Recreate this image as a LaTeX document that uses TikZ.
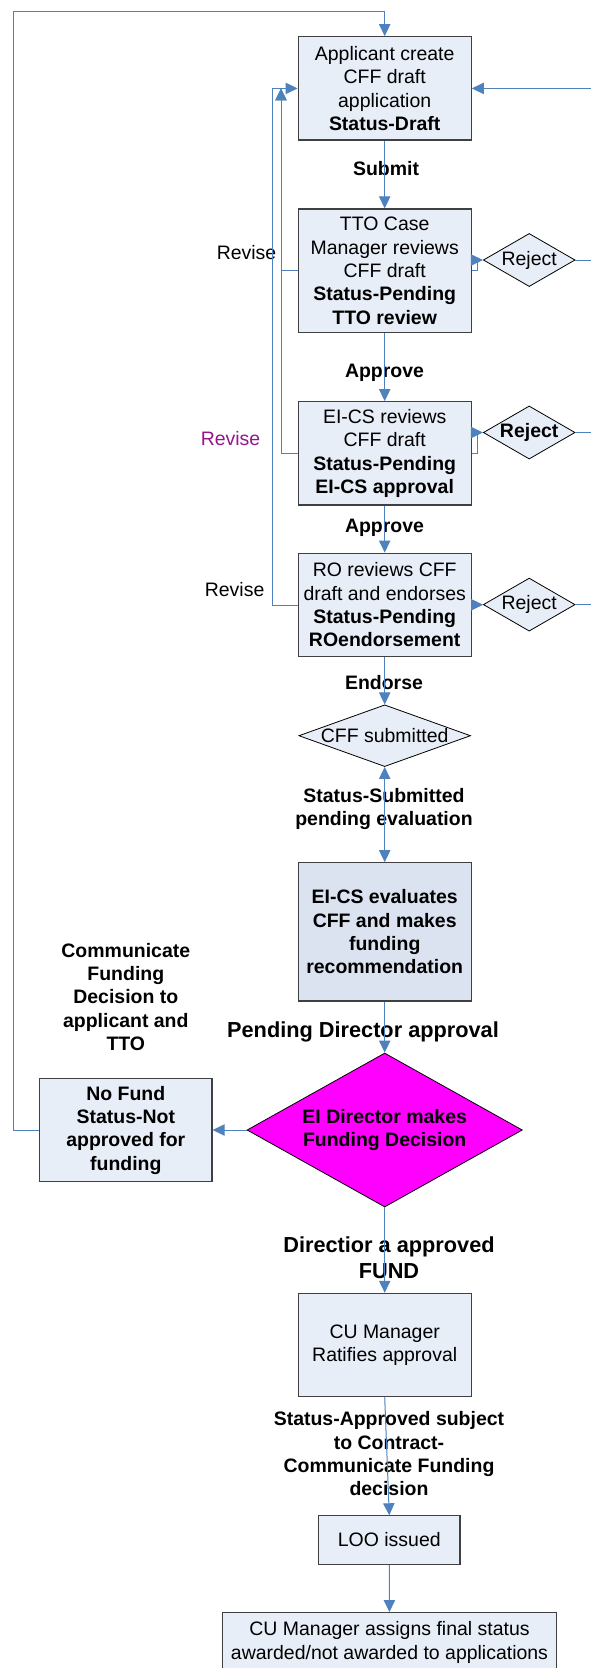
\documentclass[tikz,border=0pt]{standalone}
\usepackage{fontspec}
\setmainfont{Liberation Sans}
\usetikzlibrary{shapes.geometric,arrows.meta}
\definecolor{boxFill}{RGB}{232,238,247}
\definecolor{evalFill}{RGB}{219,227,241}
\definecolor{linkBlue}{RGB}{79,129,189}
\definecolor{edgeGray}{RGB}{64,64,64}
\definecolor{reviseMag}{RGB}{150,20,140}
\definecolor{dirMag}{RGB}{255,0,255}
\newcommand{\flowNrm}{\fontsize{14.6pt}{17.5pt}\selectfont}
\newcommand{\flowBig}{\fontsize{16.3pt}{19.3pt}\selectfont}
\begin{document}
\begin{tikzpicture}[x=0.75pt,y=-0.75pt,
    flowBox/.style={rectangle,draw=edgeGray,line width=0.9pt,fill=boxFill,align=center,inner sep=0pt,font=\flowNrm,minimum width=129.75pt},
    flowDia/.style={diamond,draw=black,line width=0.6pt,fill=boxFill,align=center,inner sep=0pt,font=\flowNrm},
    flowLbl/.style={align=center,font=\flowNrm\bfseries},
    flowArr/.style={->,>={Triangle[length=9pt,width=8.5pt]},draw=linkBlue,line width=0.75pt},
    flowLine/.style={draw=linkBlue,line width=0.75pt},
]
\useasboundingbox (0,0) rectangle (591,1668);
% main column
\node[flowBox,minimum height=77.5pt] (draft) at (384.7,88.4) {Applicant create\\CFF draft\\application\\\textbf{Status-Draft}};
\node[flowBox,minimum height=92.6pt] (tto) at (384.7,270.7) {TTO Case\\Manager reviews\\CFF draft\\\textbf{Status-Pending}\\\textbf{TTO review}};
\node[flowBox,minimum height=77.5pt] (eics) at (384.7,453.4) {EI-CS reviews\\CFF draft\\\textbf{Status-Pending}\\\textbf{EI-CS approval}};
\node[flowBox,minimum height=77.8pt] (ro) at (384.7,605) {RO reviews CFF\\draft and endorses\\\textbf{Status-Pending}\\\textbf{ROendorsement}};
\node[flowDia,aspect=2.78,minimum width=128.8pt,minimum height=46.3pt] (subm) at (384.7,735.7) {CFF submitted};
\node[flowBox,fill=evalFill,font=\flowNrm\bfseries,minimum height=103.7pt] (eval) at (384.7,931.9) {EI-CS evaluates\\CFF and makes\\funding\\recommendation};
\node[flowDia,fill=dirMag,aspect=1.79,minimum width=206.5pt,minimum height=115.5pt,font=\flowNrm\bfseries] (decide) at (384.7,1130) {EI Director makes\\Funding Decision};
\node[flowBox,font=\flowNrm\bfseries,minimum width=129.3pt,minimum height=77.8pt] (nofund) at (125.8,1130) {No Fund\\Status-Not\\approved for\\funding};
\node[flowBox,minimum height=77.5pt] (ratify) at (384.7,1345) {CU Manager\\Ratifies approval};
\node[flowBox,minimum width=106.1pt,minimum height=36.2pt] (loo) at (389.3,1540) {LOO issued};
\node[flowBox,minimum width=250.8pt,minimum height=44.5pt] (final) at (389.5,1642.3) {CU Manager assigns final status\\awarded/not awarded to applications};
% reject diamonds
\node[flowDia,aspect=1.73,minimum width=68.8pt,minimum height=39.8pt] (rej1) at (529.2,260) {Reject};
\node[flowDia,aspect=1.73,minimum width=68.8pt,minimum height=39.8pt,font=\flowNrm\bfseries] (rej2) at (529.2,432.5) {Reject};
\node[flowDia,aspect=1.73,minimum width=68.8pt,minimum height=39.8pt] (rej3) at (529.2,604.6) {Reject};
% labels
\node[flowLbl] (lSubmit) at (386,169) {Submit};
\node[flowLbl] (lApprove) at (384.5,372.7) {Approve};
\node[flowLbl] (lApproveB) at (384.5,528.3) {Approve};
\node[flowLbl] (lEndorse) at (384,683) {Endorse};
\node[flowLbl] (lSubmitted) at (384,808.8) {Status-Submitted\\pending evaluation};
\node[flowLbl,font=\flowBig\bfseries] (lPending) at (363,1031.7) {Pending Director approval};
\node[flowLbl] (lComm) at (125.8,996.7) {Communicate\\Funding\\Decision to\\applicant and\\TTO};
\node[flowLbl,font=\flowBig\bfseries] (lFund) at (389,1258) {Directior a approved\\FUND};
\node[flowLbl] (lApproved) at (389,1454) {Status-Approved subject\\to Contract-\\Communicate Funding\\decision};
\node[font=\flowNrm] (lRevise) at (246.5,253) {Revise};
\node[font=\flowNrm,text=reviseMag] (lReviseB) at (230.5,438.3) {Revise};
\node[font=\flowNrm] (lReviseC) at (234.6,589.3) {Revise};
% connectors
\coordinate (revIn) at (281,0);
\coordinate (revOut) at (272.7,0);
\coordinate (backR) at (600,0);
\coordinate (loopL) at (13.6,11);
\draw[flowArr] (draft) -- (tto);
\draw[flowArr] (tto) -- (eics);
\draw[flowArr] (eics) -- (ro);
\draw[flowArr] (ro) -- (subm);
\draw[flowArr,<->] (subm) -- (eval);
\draw[flowArr] (eval) -- (decide);
\draw[flowArr] (decide) -- (nofund);
\draw[flowArr] (decide) -- (ratify);
\draw[flowArr] (ratify.south) -- (loo.north);
\draw[flowArr] (loo) -- (final);
\draw[flowArr] (tto.east) -- ++(6,0) |- (rej1.west);
\draw[flowArr] (eics.east) -- ++(6,0) |- (rej2.west);
\draw[flowArr] (ro) -- (rej3);
\draw[flowArr] (tto.west) -| (revIn |- draft.west);
\draw[flowArr] (eics.west) -| (revIn |- draft.west);
\draw[flowArr] (ro.west) -| (revOut |- draft.west) -- (draft.west);
\draw[flowLine] (rej1.east) -- (rej1.east -| backR);
\draw[flowLine] (rej2.east) -- (rej2.east -| backR);
\draw[flowArr] (rej3.east) -| (backR |- draft.east) -- (draft.east);
\draw[flowArr] (nofund.west) -| (loopL) -- (loopL -| draft.north) -- (draft.north);
\end{tikzpicture}
\end{document}
